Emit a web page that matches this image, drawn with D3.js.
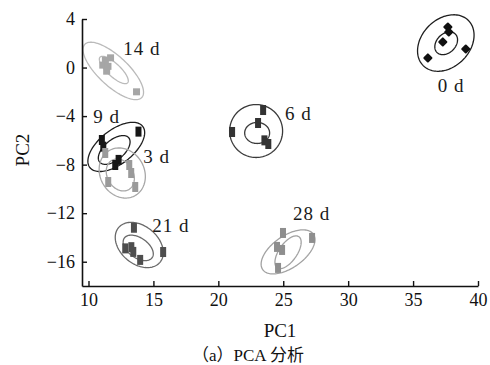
<!DOCTYPE html>
<html><head><meta charset="utf-8">
<script src="https://cdn.jsdelivr.net/npm/d3@7"></script>
<style>
body{margin:0;background:#fff;}
</style></head>
<body><svg id="c" width="490" height="365"></svg>
<script>
// ---- data ----
const groups = ["0 d","6 d","9 d","3 d","14 d","21 d","28 d"];
const pts0  = [[37.68,3.34],[37.75,2.93],[37.29,2.11],[39.06,1.53],[36.14,0.79]];
const pts6  = [[23.45,-3.5],[23.06,-4.57],[21.06,-5.31],[23.55,-6.0],[23.85,-6.3]];
const pts9  = [[11.03,-5.97],[11.14,-6.52],[13.85,-5.28],[12.32,-7.61],[12.06,-8.03]];
const pts3  = [[11.29,-7.04],[11.52,-9.43],[13.14,-8.03],[13.29,-8.69],[13.6,-9.84]];
const pts14 = [[11.3,0.6],[11.7,0.8],[11.1,0.2],[11.5,0.1],[11.4,-0.3],[13.7,-2.0]];
const pts21 = [[13.5,-13.2],[12.83,-14.9],[13.3,-14.8],[13.45,-15.19],[13.98,-15.85],[15.75,-15.2]];
const pts28 = [[24.98,-13.63],[24.52,-14.78],[24.91,-15.03],[24.6,-16.51],[27.22,-14.04]];
// confidence ellipses: [cx, cy, semi-axis a, semi-axis b (PC1 units), angle deg]
const ell0  = [[37.52,2.02,2.46,1.85,-45],[37.55,2.0,1.0,0.73,-45]];
const ell6  = [[22.91,-5.23,2.04,2.04,0],[22.99,-5.39,0.96,0.81,0]];
const ell9  = [[12.14,-6.54,2.58,1.31,-38],[11.98,-6.79,1.46,0.77,-40]];
const ell3  = [[12.6,-8.69,2.0,1.7,60],[12.45,-8.85,1.3,1.0,60]];
const ell14 = [[11.91,-0.28,3.0,1.15,43],[11.95,-0.2,1.45,0.5,43]];
const ell21 = [[13.91,-14.62,2.08,1.46,40],[13.83,-14.86,1.31,0.77,35]];
const ell28 = [[25.37,-15.19,2.38,1.23,-35],[25.37,-15.22,1.46,0.69,-55]];
// label anchors (data coords)
const labelPos = [[36.9,-2.01],[25.14,-4.32],[10.37,-4.57],[14.22,-7.86],[12.68,1.03],[14.91,-13.55],[25.75,-12.56]];
const xTicks = [10,15,20,25,30,35,40];
const yTicks = [4,0,-4,-8,-12,-16];

const points = [pts0,pts6,pts9,pts3,pts14,pts21,pts28];
const ellipses = [ell0,ell6,ell9,ell3,ell14,ell21,ell28];
const ptColor  = ["#111","#333","#161616","#9a9a9a","#a6a6a6","#4e4e4e","#8e8e8e"];
const elColor  = ["#1e1e1e","#3a3a3a","#1e1e1e","#a8a8a8","#bababa","#6a6a6a","#a2a2a2"];
const marker   = ["diamond","rect","rect","rect","small","rect","rect"];
const SERIF = "'Liberation Serif','Times New Roman',serif";

const svg = d3.select("#c");
const x = d3.scaleLinear().domain([9.5,40]).range([82,478]);
const y = d3.scaleLinear().domain([-18,4]).range([286,19]);
const k = x(1)-x(0);

// ellipses
const line = d3.line().curve(d3.curveLinearClosed);
ellipses.forEach((els,gi)=>{
  els.forEach(e=>{
    const [cx,cy,a,b,ang]=e, th=ang*Math.PI/180;
    const p = d3.range(0,120).map(i=>{
      const t=i/120*2*Math.PI;
      return [x(cx)+k*(a*Math.cos(t)*Math.cos(th)-b*Math.sin(t)*Math.sin(th)),
              y(cy)+k*(a*Math.cos(t)*Math.sin(th)+b*Math.sin(t)*Math.cos(th))];
    });
    svg.append("path").attr("d",line(p)).attr("fill","none")
      .attr("stroke",elColor[gi]).attr("stroke-width",1.3);
  });
});

// points
points.forEach((ps,gi)=>{
  const g = svg.append("g").attr("fill",ptColor[gi]);
  ps.forEach(p=>{
    const px=x(p[0]), py=y(p[1]);
    if(marker[gi]==="diamond"){
      g.append("rect").attr("x",px-3.5).attr("y",py-3.5).attr("width",7).attr("height",7)
       .attr("transform",`rotate(45,${px},${py})`).attr("rx",1);
    } else if(marker[gi]==="small"){
      g.append("rect").attr("x",px-3.5).attr("y",py-3.5).attr("width",7).attr("height",7);
    } else {
      g.append("rect").attr("x",px-3).attr("y",py-5).attr("width",6).attr("height",10);
    }
  });
});

// labels
groups.forEach((g,i)=>{
  svg.append("text").attr("x",x(labelPos[i][0])).attr("y",y(labelPos[i][1]))
    .attr("font-family",SERIF)
    .attr("font-size",19).attr("letter-spacing","1px").attr("fill","#1a1a1a").text(g);
});

// axes
const xa = svg.append("g").attr("transform","translate(0,286)")
  .call(d3.axisBottom(x).tickValues(xTicks).tickSizeInner(-5).tickSizeOuter(0).tickPadding(7));
const ya = svg.append("g").attr("transform","translate(82,0)")
  .call(d3.axisLeft(y).tickValues(yTicks).tickSizeInner(-5).tickSizeOuter(0).tickPadding(7)
    .tickFormat(d=>d<0?"\u2212"+Math.abs(d):d));
[xa,ya].forEach(a=>{
  a.attr("font-family",SERIF).attr("font-size",18);
  a.select(".domain").attr("stroke","#111").attr("stroke-width",1.6);
  a.selectAll(".tick line").attr("stroke","#111").attr("stroke-width",1.4);
  a.selectAll("text").attr("fill","#111");
});

svg.append("text").attr("x",280).attr("y",337).attr("text-anchor","middle")
  .attr("font-family",SERIF).attr("font-size",19).attr("fill","#111").text("PC1");
svg.append("text").attr("transform","translate(29,150) rotate(-90)").attr("text-anchor","middle")
  .attr("font-family",SERIF).attr("font-size",19).attr("fill","#111").text("PC2");
svg.append("text").attr("x",248).attr("y",361).attr("text-anchor","middle")
  .attr("font-size",17).attr("fill","#111")
  .attr("font-family","'Liberation Serif','Noto Sans CJK SC',serif").text("（a）PCA 分析");
</script></body></html>
